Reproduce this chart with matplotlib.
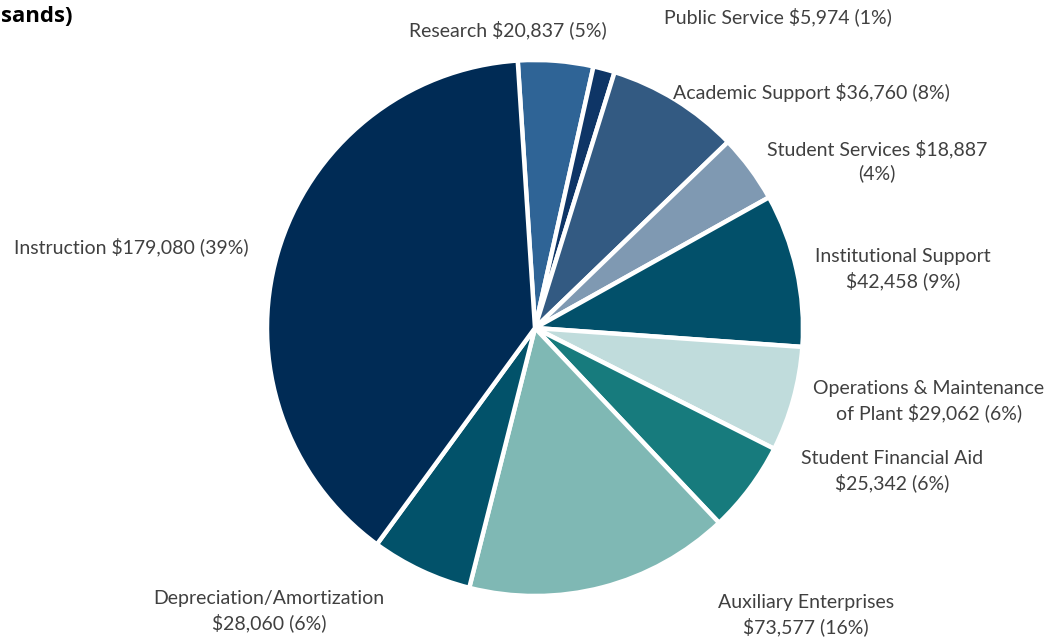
import matplotlib.pyplot as plt

# expenses by function, in thousands of dollars
categories = ['Research', 'Public Service', 'Academic Support', 'Student Services',
              'Institutional Support', 'Operations & Maintenance of Plant',
              'Student Financial Aid', 'Auxiliary Enterprises',
              'Depreciation/Amortization', 'Instruction']
amounts = [20837, 5974, 36760, 18887, 42458, 29062, 25342, 73577, 28060, 179080]
colors = ['#2f6496', '#0e3566', '#335a82', '#7f99b2', '#02506a',
          '#c0dcdc', '#177b7d', '#7fb8b4', '#02526a', '#002b55']

# label text with manual line breaks, plus centre position in pixels
label_lines = [
    'Research $20,837 (5%)',
    'Public Service $5,974 (1%)',
    'Academic Support $36,760 (8%)',
    'Student Services $18,887\n(4%)',
    'Institutional Support\n$42,458 (9%)',
    'Operations & Maintenance\nof Plant $29,062 (6%)',
    'Student Financial Aid\n$25,342 (6%)',
    'Auxiliary Enterprises\n$73,577 (16%)',
    'Depreciation/Amortization\n$28,060 (6%)',
    'Instruction $179,080 (39%)',
]
label_xy = [(508, 30), (778, 17), (811, 93), (877, 161), (903, 269),
            (929, 401), (892, 471), (806, 615), (269, 611), (131, 247)]

W, H = 1054, 639
fig = plt.figure(figsize=(W / 100, H / 100), dpi=100)

# pie centred at (535, 328) px with radius 268 px
cx, cy, r = 535, 328, 268
ax = fig.add_axes([(cx - r) / W, (H - cy - r) / H, 2 * r / W, 2 * r / H])
ax.pie(amounts, colors=colors, startangle=93.7, counterclock=False, radius=1,
       wedgeprops={'edgecolor': 'white', 'linewidth': 3.2})
ax.set_xlim(-1, 1)
ax.set_ylim(-1, 1)
ax.set_aspect('equal')
ax.axis('off')

for text, (x, y) in zip(label_lines, label_xy):
    fig.text(x / W, 1 - y / H, text, ha='center', va='center', fontsize=14,
             family='Lato', color='#404040', linespacing=1.36)

# tail of the chart title in the top-left corner
fig.text(1 / W, 1 - 17 / H, 'sands)', ha='left', va='center',
         fontsize=16, family='Open Sans', fontweight='bold', color='black')

fig.savefig('out.png', dpi=100)
